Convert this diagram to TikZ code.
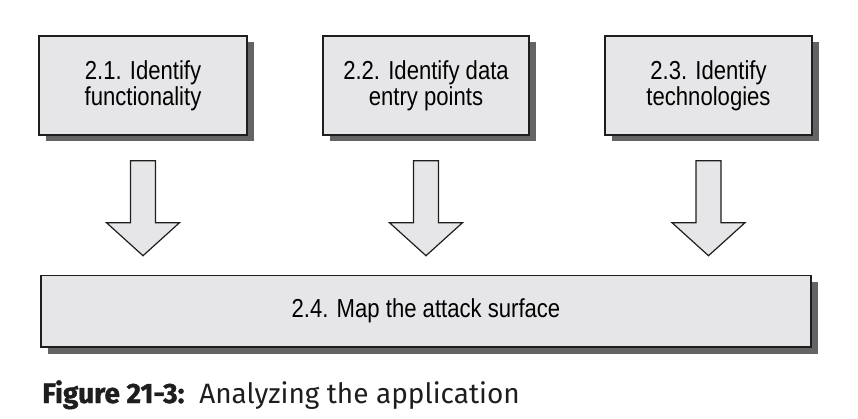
\documentclass[tikz,border=0pt]{standalone}
\usepackage{fontspec}
\setmainfont{Liberation Sans}
\newfontfamily\boxfont[FakeStretch=0.85]{Liberation Sans}
\newfontfamily\capfont[BoldFeatures={FakeBold=1.2}]{Fira Sans}
\usepackage{xcolor}
\usepackage{tikz}
\usetikzlibrary{calc,shadows}

\definecolor{boxfill}{HTML}{E6E6E8}
\definecolor{shadowgray}{HTML}{646464}
\definecolor{edgegray}{HTML}{1E1E1E}

\tikzset{
  stage/.style={draw=edgegray, line width=1.6pt, fill=boxfill, align=center,
    font=\boxfont\fontsize{26}{26}\selectfont,
    drop shadow={shadow xshift=6.5pt, shadow yshift=-6.5pt, fill=shadowgray, opacity=1}},
  blockarrow/.style={draw=edgegray, line width=1.2pt, fill=boxfill, line join=miter}
}

% block arrow pointing down: #1 = top of shaft, #2 = tip
\newcommand{\blockdown}[2]{%
  \draw[blockarrow] ($(#1)+(-12.5,0)$) -- ($(#1)+(12.5,0)$) -- ($(#2)+(12.5,33)$)
    -- ($(#2)+(36.5,33)$) -- (#2) -- ($(#2)+(-36.5,33)$) -- ($(#2)+(-12.5,33)$) -- cycle;}

\begin{document}
\begin{tikzpicture}[x=1pt,y=1pt]
  \useasboundingbox (0,0) rectangle (858,418);

  \node[stage, minimum width=208, minimum height=99] (func) at (143,332.5) {2.1. Identify\\functionality};
  \node[stage, minimum width=206, minimum height=99] (entry) at (426,332.5) {2.2. Identify data\\entry points};
  \node[stage, minimum width=207, minimum height=99] (tech) at (708.5,332.5) {2.3. Identify\\technologies};
  \node[stage, minimum width=770, minimum height=71.5] (surface) at (426,106.75) {2.4. Map the attack surface};

  % arrows into the attack surface
  \coordinate (s1) at ($(func.south)+(0,-25)$);
  \coordinate (s2) at ($(entry.south)+(0,-25)$);
  \coordinate (s3) at ($(tech.south)+(0,-25)$);
  \coordinate (e1) at ($(s1 |- surface.north)+(0,19)$);
  \coordinate (e2) at ($(s2 |- surface.north)+(0,19)$);
  \coordinate (e3) at ($(s3 |- surface.north)+(0,19)$);
  \blockdown{s1}{e1}
  \blockdown{s2}{e2}
  \blockdown{s3}{e3}

  \node[anchor=base west, inner sep=0pt, text=edgegray, font=\capfont\fontsize{28}{32}\selectfont] (caption) at (42,15)
    {{\bfseries Figure 21-3:}\ \ Analyzing the application};
\end{tikzpicture}
\end{document}
